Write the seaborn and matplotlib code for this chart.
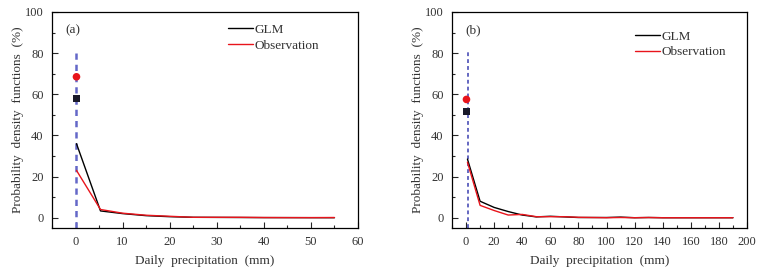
import pandas as pd
import matplotlib.pyplot as plt
import seaborn as sns
from matplotlib.ticker import MultipleLocator

# Panel (a) data
a_x = [0.2, 5.3, 10, 15, 20, 25, 30, 35, 40, 45, 50, 55]
a_glm = [36, 3.3, 2.0, 1.0, 0.5, 0.2, 0.15, 0.1, 0.05, 0.05, 0.02, 0.0]
a_obs = [23, 4.0, 2.2, 1.2, 0.7, 0.2, 0.2, 0.2, 0.1, 0.05, 0.05, 0.1]
a_dry_glm = 58
a_dry_obs = 68.5
a_dry_x = 0.2

# Panel (b) data
b_x = [1, 10, 20, 30, 40, 50, 60, 70, 80, 90, 100, 110, 120, 130, 140, 150, 160, 170, 180, 190]
b_glm = [28.5, 8.0, 5.0, 3.0, 1.3, 0.4, 0.7, 0.4, 0.1, 0.1, 0.1, 0.3, 0.0, 0.1, 0.0, 0.0, 0.0, 0.0, 0.0, 0.0]
b_obs = [27.0, 6.0, 3.5, 1.3, 1.6, 0.5, 0.5, 0.5, 0.2, 0.1, 0.0, 0.1, 0.0, 0.1, 0.0, 0.0, 0.0, 0.0, 0.0, 0.0]
b_dry_glm = 51.5
b_dry_obs = 57.5
b_dry_x = 0.3
b_line_x = 1.2

sns.set_style("white")
plt.rcParams['font.family'] = ['Liberation Serif', 'DejaVu Serif']
text_col = "#333333"

fig = plt.figure(figsize=(7.7, 2.73), dpi=100)
ax_a = fig.add_axes([52 / 770, 1 - 228 / 273, 306 / 770, 216 / 273])
ax_b = fig.add_axes([452 / 770, 1 - 228 / 273, 295 / 770, 216 / 273])


def draw_panel(ax, x, glm, obs, dry_x, dry_glm, dry_obs, line_x, line_style, label, xlim, xmajor, leg_anchor):
    df = pd.DataFrame({"x": list(x) * 2,
                       "y": list(glm) + list(obs),
                       "series": ["GLM"] * len(x) + ["Observation"] * len(x)})
    sns.lineplot(data=df, x="x", y="y", hue="series",
                 palette={"GLM": "black", "Observation": "#e8141b"},
                 linewidth=1.0, ax=ax)
    ax.plot([line_x, line_x], [-5, 81], linestyle=(0, (2.5, 2)), zorder=1, **line_style)
    sns.scatterplot(x=[dry_x], y=[dry_glm], marker="s", color="#1a1a2a", s=24, edgecolor="none",
                    ax=ax, zorder=3, legend=False)
    sns.scatterplot(x=[dry_x], y=[dry_obs], marker="o", color="#e8141b", s=30, edgecolor="none",
                    ax=ax, zorder=3, legend=False)
    ax.set_xlim(*xlim)
    ax.set_ylim(-5, 100)
    ax.xaxis.set_major_locator(MultipleLocator(xmajor))
    ax.xaxis.set_minor_locator(MultipleLocator(xmajor / 2))
    ax.set_yticks([0, 20, 40, 60, 80, 100])
    ax.yaxis.set_minor_locator(MultipleLocator(10))
    ax.tick_params(which="both", direction="in", bottom=True, left=True, top=False, right=False,
                   labelsize=9, labelcolor=text_col, pad=6)
    ax.tick_params(which="major", length=4, width=0.8)
    ax.tick_params(which="minor", length=2, width=0.8)
    for s in ax.spines.values():
        s.set_color("black")
        s.set_linewidth(0.9)
    ax.set_xlabel("Daily  precipitation  (mm)", color=text_col, fontsize=9.5, labelpad=5)
    ax.set_ylabel("Probability  density  functions  (%)", color=text_col, fontsize=9.5, labelpad=1)
    ax.text(0.045, 0.9, label, transform=ax.transAxes, fontsize=9.5, color=text_col)
    leg = ax.legend(loc="upper left", bbox_to_anchor=leg_anchor, frameon=False, borderpad=0,
                    borderaxespad=0, fontsize=9.5, handlelength=1.9, handletextpad=0.1,
                    labelspacing=0.25)
    for t in leg.get_texts():
        t.set_color(text_col)


draw_panel(ax_a, a_x, a_glm, a_obs, a_dry_x, a_dry_glm, a_dry_obs, a_dry_x,
           dict(color="#6468c8", linewidth=1.8), "(a)", (-5, 60), 10, (0.575, 0.945))
draw_panel(ax_b, b_x, b_glm, b_obs, b_dry_x, b_dry_glm, b_dry_obs, b_line_x,
           dict(color="#3a3fb0", linewidth=1.1), "(b)", (-10, 200), 20, (0.62, 0.915))

fig.savefig("out.png", dpi=100)
